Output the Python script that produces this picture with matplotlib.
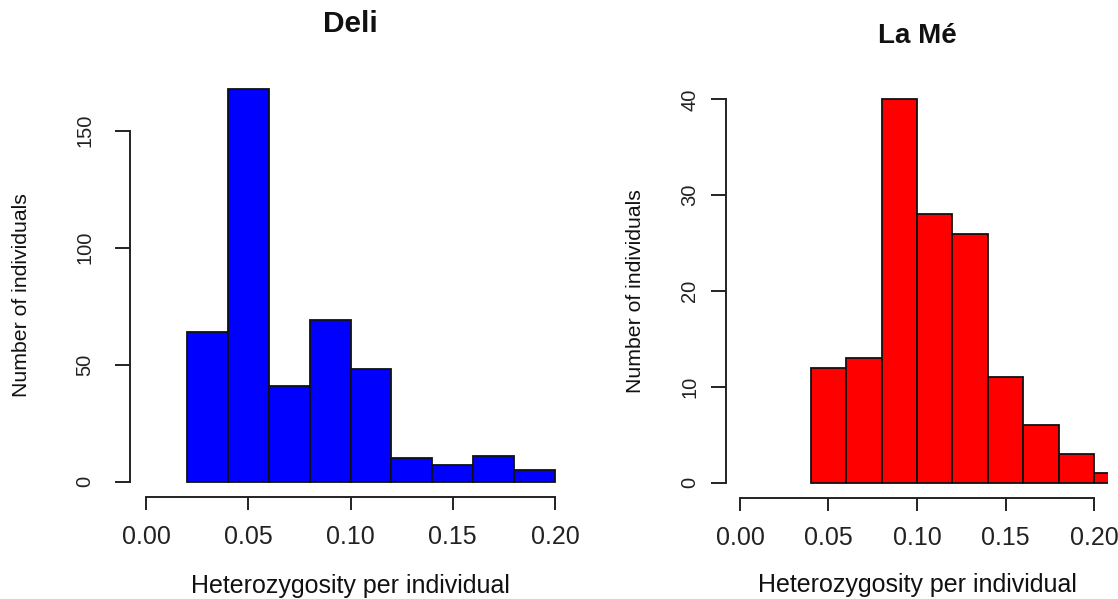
import matplotlib
matplotlib.use("Agg")
import matplotlib.pyplot as plt
import numpy as np

plt.rcParams['font.family'] = ['Liberation Sans', 'DejaVu Sans']

# Data
deli_edges = [0.02, 0.04, 0.06, 0.08, 0.10, 0.12, 0.14, 0.16, 0.18, 0.20]
deli_counts = [64, 168, 41, 69, 48, 10, 7, 11, 5]
lame_edges = [0.04, 0.06, 0.08, 0.10, 0.12, 0.14, 0.16, 0.18, 0.20, 0.22]
lame_counts = [12, 13, 40, 28, 26, 11, 6, 3, 1]
x_ticks = [0.00, 0.05, 0.10, 0.15, 0.20]
x_ticklabels = ["0.00", "0.05", "0.10", "0.15", "0.20"]
deli_yticks = [0, 50, 100, 150]
lame_yticks = [0, 10, 20, 30, 40]
titles = ["Deli", "La Mé"]
xlabel = "Heterozygosity per individual"
ylabel = "Number of individuals"

W, H = 1118, 599
fig = plt.figure(figsize=(W / 100, H / 100), dpi=100)

def px_axes(x0, x1, ytop, ybot):
    return fig.add_axes([x0 / W, 1 - ybot / H, (x1 - x0) / W, (ybot - ytop) / H])

ax1 = px_axes(129.6, 571.4, 72.9, 497.4)
ax2 = px_axes(725.8, 1108.2, 84.0, 498.0)

def style(ax, edges, counts, color, yticks, ytick_pad):
    widths = np.diff(edges)
    ax.bar(edges[:-1], counts, width=widths, align='edge', color=color,
           edgecolor='#111111', linewidth=1.3)
    ymax = max(counts)
    ax.set_xlim(-0.008, 0.208)
    ax.set_ylim(-0.04 * ymax, 1.04 * ymax)
    for s in ['top', 'right']:
        ax.spines[s].set_visible(False)
    ax.spines['left'].set_bounds(yticks[0], yticks[-1])
    ax.spines['bottom'].set_bounds(x_ticks[0], x_ticks[-1])
    for s in ['left', 'bottom']:
        ax.spines[s].set_linewidth(1.4)
        ax.spines[s].set_color('#222222')
    ax.set_xticks(x_ticks)
    ax.set_xticklabels(x_ticklabels)
    ax.set_yticks(yticks)
    ax.set_yticklabels([str(v) for v in yticks], rotation=90, va='center')
    ax.tick_params(axis='x', direction='out', length=9, width=1.4, pad=11,
                   labelsize=18, color='#222222', labelcolor='#222222')
    ax.tick_params(axis='y', direction='out', length=10.5, width=1.4, pad=ytick_pad,
                   labelsize=14.5, color='#222222', labelcolor='#222222')
    ax.patch.set_visible(False)

style(ax1, deli_edges, deli_counts, '#0000FF', deli_yticks, 15)
style(ax2, lame_edges, lame_counts, '#FF0000', lame_yticks, 8.5)

def ftext(x, y, s, **kw):
    fig.text(x / W, 1 - y / H, s, color='#111111', **kw)

ftext(350.5, 32, titles[0], ha='center', va='baseline', fontsize=21.5, fontweight='bold')
ftext(917.5, 43, titles[1], ha='center', va='baseline', fontsize=20, fontweight='bold')
ftext(350.5, 593, xlabel, ha='center', va='baseline', fontsize=18)
ftext(917.5, 592, xlabel, ha='center', va='baseline', fontsize=18)
ftext(27, 295, ylabel, ha='center', va='baseline', rotation=90, rotation_mode='anchor', fontsize=15.3)
ftext(641, 291, ylabel, ha='center', va='baseline', rotation=90, rotation_mode='anchor', fontsize=15.3)

fig.savefig("out.png", dpi=100)
